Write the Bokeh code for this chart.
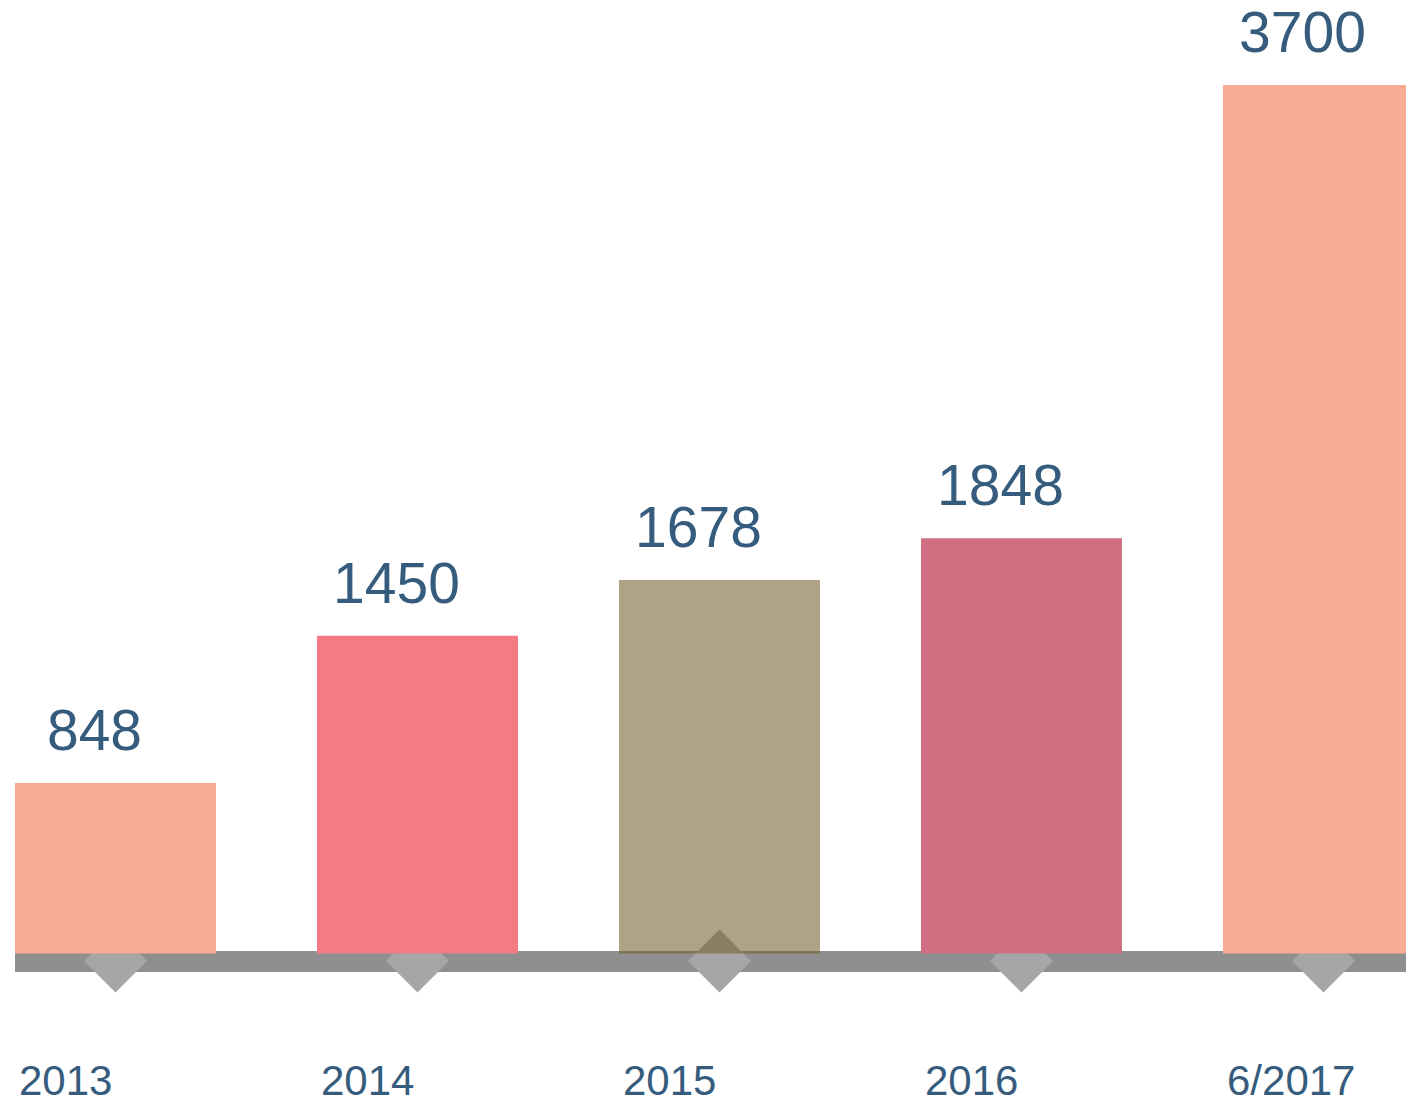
from bokeh.plotting import figure
from bokeh.models import Range1d, ColumnDataSource
from bokeh.core.properties import value
from bokeh.embed import file_html
from bokeh.resources import INLINE
import math

# ---- data ----
categories = ["2013", "2014", "2015", "2016", "6/2017"]
values = [848, 1450, 1678, 1848, 3700]
bar_colors = ["#f8ac95", "#f47a84", "#76602c", "#d06e82", "#f8ac95"]
bar_alphas = [1.0, 1.0, 0.58, 1.0, 1.0]

# ---- layout constants ----
W, H = 1406, 1105
base = 152            # value at which the bars start
px_per_unit = 0.2448  # vertical scale
base_px = 953         # pixels from top of frame to the baseline
first_px = 115        # pixel x of first category centre
step_px = 302         # pixels between categories
bar_w = 0.6656
x_start = -first_px / step_px
x_end = (W - first_px) / step_px
y_end = base + base_px / px_per_unit
y_start = base - (H - base_px) / px_per_unit

xs = list(range(len(categories)))

p = figure(width=W, height=H, output_backend="svg", toolbar_location=None,
           x_range=Range1d(x_start, x_end), y_range=Range1d(y_start, y_end),
           min_border=0, min_border_left=0, min_border_right=0,
           min_border_top=0, min_border_bottom=0)
p.axis.visible = False
p.grid.visible = False
p.outline_line_color = None
p.background_fill_color = "white"
p.border_fill_color = "white"

# baseline band
band_y = base - 8 / px_per_unit
p.segment(x0=[xs[0] - bar_w / 2], y0=[band_y], x1=[x_end + 1], y1=[band_y],
          line_color="#8f8f8f", line_width=21, line_cap="butt")

# diamonds
diamond_y = base - 7.5 / px_per_unit
p.scatter(x=xs, y=[diamond_y] * len(xs), marker="square", size=44.5,
          angle=math.pi / 4, fill_color="#a6a6a6", line_color=None)

# bars
src = ColumnDataSource(dict(x=xs, top=values, color=bar_colors, alpha=bar_alphas))
p.vbar(x="x", top="top", bottom=base, width=bar_w, source=src,
       fill_color="color", fill_alpha="alpha", line_color=None)

# value labels
lab_y = [v + 53 / px_per_unit for v in values]
p.text(x=xs, y=lab_y, text=[str(v) for v in values],
       text_font=value("Liberation Sans"), text_font_size="57px",
       text_color="#355c7d", text_align="center", text_baseline="alphabetic",
       x_offset=-21)

# category labels
cat_y = base - 127 / px_per_unit
p.text(x=[x - bar_w / 2 for x in xs], y=[cat_y] * len(xs), text=categories,
       text_font=value("Liberation Sans"), text_font_size="42px",
       text_color="#355c7d", text_align="left", text_baseline="alphabetic",
       x_offset=4)

open("out.html", "w").write(file_html(p, INLINE))
